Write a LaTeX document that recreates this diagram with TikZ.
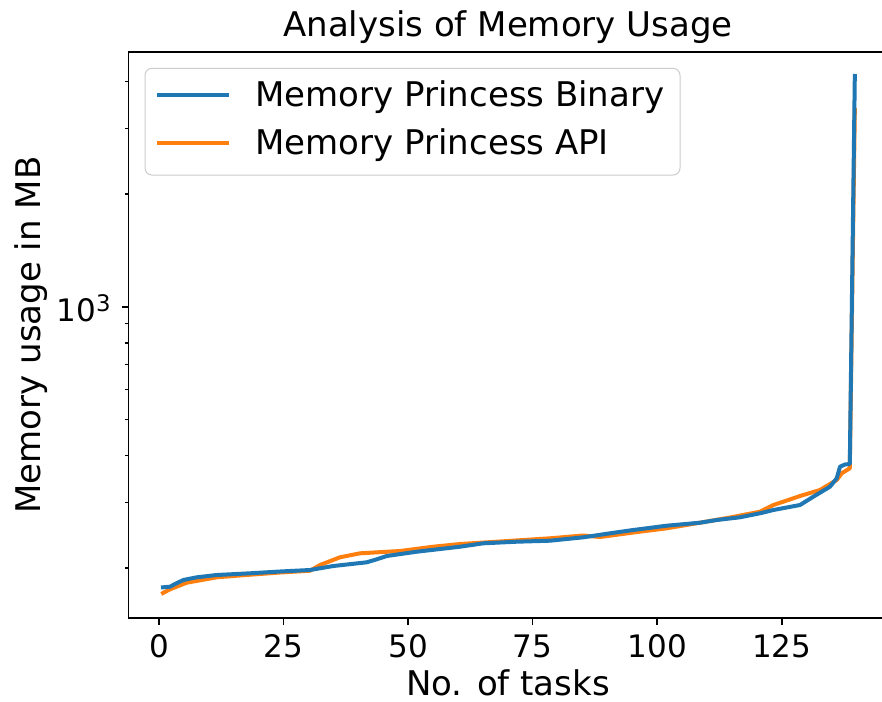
\documentclass[tikz,border=0pt]{standalone}
\usepackage{fontspec}
\setmainfont{DejaVu Sans}
\definecolor{mplblue}{HTML}{1F77B4}
\definecolor{mplorange}{HTML}{FF7F0E}
\definecolor{legendedge}{HTML}{CCCCCC}
\tikzset{
  spine/.style={line width=0.8pt, black, line cap=rect},
  majortick/.style={line width=0.8pt, black},
  minortick/.style={line width=0.6pt, black},
  series/.style={line width=2pt, line join=round, line cap=rect},
  ticklabel/.style={font=\fontsize{15.5}{18}\selectfont, inner sep=0pt},
  biglabel/.style={font=\fontsize{17}{20}\selectfont, inner sep=0pt},
  legendframe/.style={draw=legendedge, line width=0.5pt, fill=white, rounded corners=3.5pt},
}
\begin{document}
\begin{tikzpicture}[x=0.5pt,y=-0.5pt]
\useasboundingbox (0,0) rectangle (882,701);
\fill[white] (0,0) rectangle (882,701);

% data curves
\begin{scope}
\clip (128.5,52) rectangle (882,618);
\draw[series, mplorange] (163,593) -- (170,589.3) -- (186.7,582.7) -- (216.7,577.3) -- (250,574.7) -- (280,572.5) -- (310,570.7) -- (320,565) -- (340,557.3) -- (360,553.3) -- (400,551) -- (433.3,546.7) -- (460,544) -- (500,541.5) -- (550,538.3) -- (583.3,535.5) -- (600,537) -- (633.3,532.5) -- (666.7,528.3) -- (700,522.7) -- (730,517.5) -- (760,511.7) -- (773.3,505) -- (783.3,501.7) -- (800,496) -- (820,490) -- (836.7,480) -- (841.7,473.3) -- (849.8,468.3) -- (854.8,110);
\draw[series, mplblue] (163,587.3) -- (170,586.7) -- (175,584) -- (183.3,580) -- (196.7,577.3) -- (216.7,575) -- (250,573.3) -- (280,571.5) -- (310,570) -- (333.3,566) -- (366.7,562.3) -- (376.7,559.3) -- (386.7,556) -- (416.7,551.7) -- (460,546.7) -- (483.3,543.3) -- (516.7,541.7) -- (550,540.7) -- (583.3,537.3) -- (610,533.3) -- (633.3,530) -- (666.7,525.7) -- (700,522.7) -- (716.7,520) -- (740,517.3) -- (760,513.3) -- (773.3,510) -- (800,505) -- (813.3,496.7) -- (830,486.7) -- (836.7,478.3) -- (840,466.7) -- (844.9,464.5) -- (849.8,464) -- (854.8,76);
\end{scope}

% spines
\draw[spine] (128.5,52) -- (882,52);
\draw[spine] (128.5,52) -- (128.5,618);
\draw[spine] (128.5,618) -- (882,618);

% x ticks and labels
\foreach \v/\px in {0/159, 25/283.5, 50/408.1, 75/532.6, 100/657.2, 125/781.7} {
  \draw[majortick] (\px,618) -- (\px,625);
  \node[ticklabel, anchor=base] (xt\v) at (\px,657) {\v};
}

% y ticks
\draw[majortick] (128.5,306.7) -- (121.5,306.7);
\foreach \py in {568, 502.3, 455.5, 419.3, 389.7, 364.6, 343, 323.8, 194, 128.2, 81.6} {
  \draw[minortick] (128.5,\py) -- (124.5,\py);
}
\node[ticklabel, anchor=base east] (ytk) at (111,321.7) {10\raisebox{5pt}{\fontsize{11.4}{13}\selectfont 3}};

% axis labels and title
\node[biglabel, anchor=base] (title) at (508,37) {Analysis of Memory Usage};
\node[biglabel, anchor=base] (xlab) at (508,695) {No. of tasks};
\node[biglabel, anchor=base, rotate=90] (ylab) at (40,335) {Memory usage in MB};

% legend
\draw[legendframe] (145,68.3) rectangle (680,175);
\coordinate (lb1) at (157,95);
\coordinate (lb2) at (229,95);
\coordinate (lo1) at (157,142.7);
\coordinate (lo2) at (229,142.7);
\draw[series, mplblue, line cap=butt] (lb1) -- (lb2);
\draw[series, mplorange, line cap=butt] (lo1) -- (lo2);
\node[biglabel, anchor=base west] (leg1) at (255,106.7) {Memory Princess Binary};
\node[biglabel, anchor=base west] (leg2) at (255,154) {Memory Princess API};
\end{tikzpicture}
\end{document}
